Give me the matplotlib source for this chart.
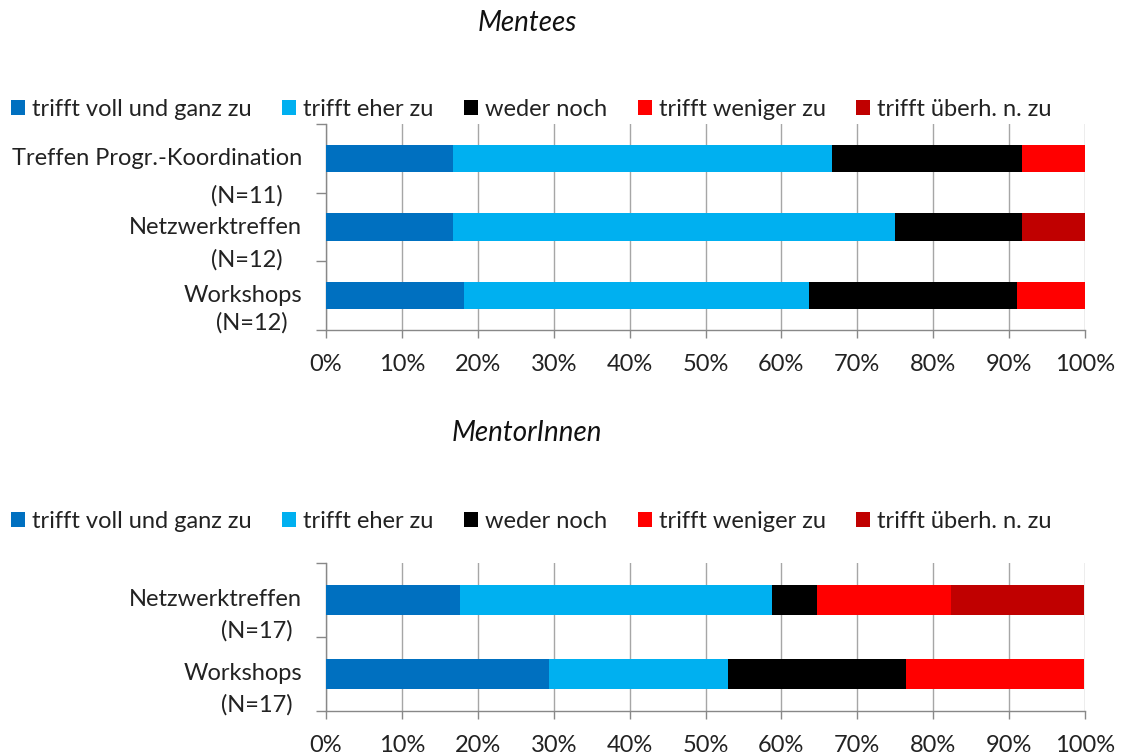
import matplotlib
matplotlib.use('Agg')
import matplotlib.pyplot as plt
from matplotlib.patches import Patch
from matplotlib.ticker import FuncFormatter

# ---------------- data ----------------
categories = ['trifft voll und ganz zu', 'trifft eher zu', 'weder noch',
              'trifft weniger zu', 'trifft überh. n. zu']
colors = ['#0070C0', '#00B0F0', '#000000', '#FF0000', '#C00000']

mentees_items = ['Treffen Progr.-Koordination', 'Netzwerktreffen', 'Workshops']
mentees_n = ['(N=11)', '(N=12)', '(N=12)']
mentees_voll = [16.7, 16.7, 18.2]
mentees_eher = [50.0, 58.3, 45.5]
mentees_weder = [25.0, 16.7, 27.3]
mentees_weniger = [8.3, 0.0, 9.1]
mentees_ueberh = [0.0, 8.3, 0.0]

mentors_items = ['Netzwerktreffen', 'Workshops']
mentors_n = ['(N=17)', '(N=17)']
mentors_voll = [17.6, 29.4]
mentors_eher = [41.2, 23.5]
mentors_weder = [5.9, 23.5]
mentors_weniger = [17.6, 23.5]
mentors_ueberh = [17.6, 0.0]

xticks = [0, 10, 20, 30, 40, 50, 60, 70, 80, 90, 100]

# ---------------- style ----------------
FONT = 'Lato'
FS = 17
plt.rcParams['font.family'] = [FONT, 'DejaVu Sans']
plt.rcParams['font.size'] = FS

W, H = 1124, 754
fig = plt.figure(figsize=(W / 100, H / 100), dpi=100)


def px_axes(left, top, right, bottom):
    return fig.add_axes([left / W, 1 - bottom / H, (right - left) / W, (bottom - top) / H])


def draw_panel(ax, items, ns, series, n_offsets, n_dx):
    n = len(items)
    left = [0.0] * n
    for vals, col in zip(series, colors):
        ax.barh(range(n), vals, left=left, height=0.4, color=col, edgecolor='none', zorder=3)
        left = [a + b for a, b in zip(left, vals)]
    ax.set_xlim(0, 100)
    ax.set_ylim(n - 0.5, -0.5)
    ax.set_xticks(xticks)
    ax.xaxis.set_major_formatter(FuncFormatter(lambda v, p: f'{int(v)}%'))
    ax.set_yticks([i - 0.5 for i in range(n + 1)])
    ax.set_yticklabels([])
    ax.grid(axis='x', color='#A6A6A6', linewidth=1.0, zorder=0)
    for s in ['top', 'right']:
        ax.spines[s].set_visible(False)
    for s in ['left', 'bottom']:
        ax.spines[s].set_color('#888888')
        ax.spines[s].set_linewidth(1.0)
    ax.tick_params(axis='y', length=7, color='#888888', width=1.0)
    ax.tick_params(axis='x', length=6, color='#888888', width=1.0, pad=11,
                   labelsize=FS, labelcolor='#222222')
    for i, (lab, nl) in enumerate(zip(items, ns)):
        ax.annotate(lab, xy=(0, i), xycoords=('axes fraction', 'data'),
                    xytext=(-24, 0), textcoords='offset pixels',
                    ha='right', va='center', fontsize=FS, color='#222222')
        ax.annotate(nl, xy=(0, i + n_offsets[i]), xycoords=('axes fraction', 'data'),
                    xytext=(-n_dx[i], 0), textcoords='offset pixels',
                    ha='right', va='center', fontsize=FS, color='#222222')


def draw_legend(ycenter):
    handles = [Patch(facecolor=c, edgecolor='none') for c in colors]
    fig.legend(handles, categories, loc='center left',
               bbox_to_anchor=(11 / W, 1 - ycenter / H), ncol=5, frameon=False,
               handlelength=0.6, handleheight=0.6, handletextpad=0.3,
               columnspacing=1.28, fontsize=FS, labelcolor='#222222',
               borderaxespad=0, borderpad=0)


# top panel
ax1 = px_axes(326, 124, 1085, 330)
draw_panel(ax1, mentees_items, mentees_n,
           [mentees_voll, mentees_eher, mentees_weder, mentees_weniger, mentees_ueberh],
           [0.54, 0.48, 0.39], [43, 43, 38])
fig.text(527 / W, 1 - 23 / H, 'Mentees', ha='center', va='center',
         fontsize=20, style='italic', color='#111111')
draw_legend(109)

# bottom panel
ax2 = px_axes(326, 563, 1085, 711)
draw_panel(ax2, mentors_items, mentors_n,
           [mentors_voll, mentors_eher, mentors_weder, mentors_weniger, mentors_ueberh],
           [0.42, 0.42], [33, 33])
fig.text(527 / W, 1 - 433 / H, 'MentorInnen', ha='center', va='center',
         fontsize=20, style='italic', color='#111111')
draw_legend(521)

fig.savefig('out.png', dpi=100)
